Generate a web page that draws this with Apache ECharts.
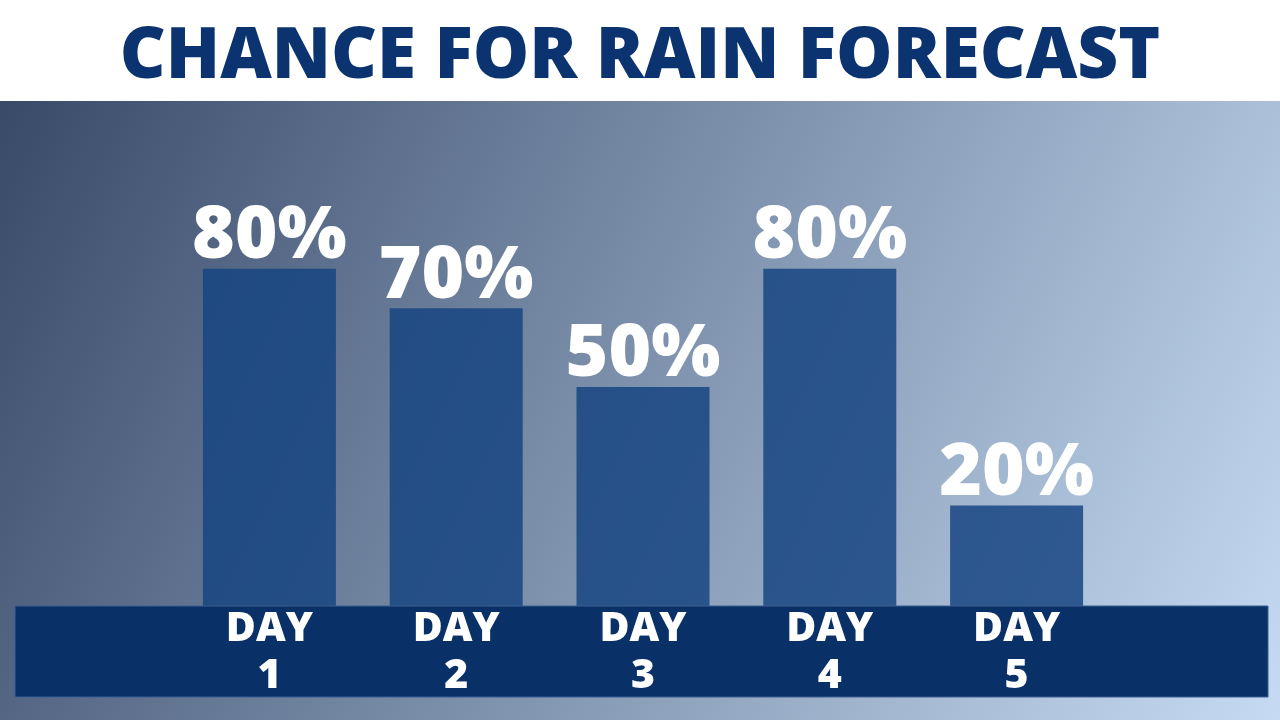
<!DOCTYPE html>
<html>
<head>
<meta charset="utf-8">
<script src="https://cdn.jsdelivr.net/npm/echarts@6/dist/echarts.min.js"></script>
<style>
  html, body { margin: 0; padding: 0; background: #fff; }
  #main { width: 1280px; height: 720px; }
</style>
</head>
<body>
<div id="main"></div>
<script>
// data
const days = ['DAY\n1', 'DAY\n2', 'DAY\n3', 'DAY\n4', 'DAY\n5']
const chance = [80, 70, 50, 80, 20]

const chart = echarts.init(document.getElementById('main'))

const option = {
  backgroundColor: '#ffffff',
  animation: false,
  title: {
    text: 'CHANCE FOR RAIN FORECAST',
    left: 'center',
    top: 17,
    z: 10,
    textStyle: {
      color: '#0b3370',
      fontFamily: 'Open Sans',
      fontWeight: 800,
      fontSize: 71,
      lineHeight: 71
    }
  },
  graphic: [
    {
      // gradient backdrop under the title band
      type: 'rect',
      z: 0,
      shape: { x: 0, y: 101, width: 1280, height: 619 },
      style: {
        fill: new echarts.graphic.LinearGradient(0, 0, 1, 1, [
          { offset: 0, color: '#394a69' },
          { offset: 0.5, color: '#7f93ae' },
          { offset: 1, color: '#c6dbf3' }
        ])
      }
    },
    {
      // navy strip holding the day labels
      type: 'rect',
      z: 5,
      shape: { x: 15, y: 606, width: 1253, height: 91 },
      style: { fill: '#0a3068', stroke: '#3c5f92', lineWidth: 1 }
    }
  ],
  grid: {
    left: 176,
    right: 170,
    top: 111,
    bottom: 114
  },
  xAxis: {
    type: 'category',
    data: days,
    z: 10,
    axisLine: { show: false },
    axisTick: { show: false },
    axisLabel: {
      margin: 0,
      color: '#ffffff',
      fontFamily: 'Open Sans',
      fontWeight: 800,
      fontSize: 41,
      lineHeight: 47
    }
  },
  yAxis: {
    type: 'value',
    min: -5.5,
    max: 120,
    startValue: -5.5,
    show: false,
    splitLine: { show: false }
  },
  series: [
    {
      type: 'bar',
      data: chance,
      barWidth: 133,
      z: 3,
      itemStyle: { color: 'rgba(22,68,129,0.84)' },
      label: {
        show: true,
        position: 'top',
        distance: -5,
        formatter: '{c}%',
        color: '#ffffff',
        fontFamily: 'Open Sans',
        fontWeight: 800,
        fontSize: 73,
        lineHeight: 73
      }
    }
  ]
}

chart.setOption(option)
</script>
</body>
</html>
